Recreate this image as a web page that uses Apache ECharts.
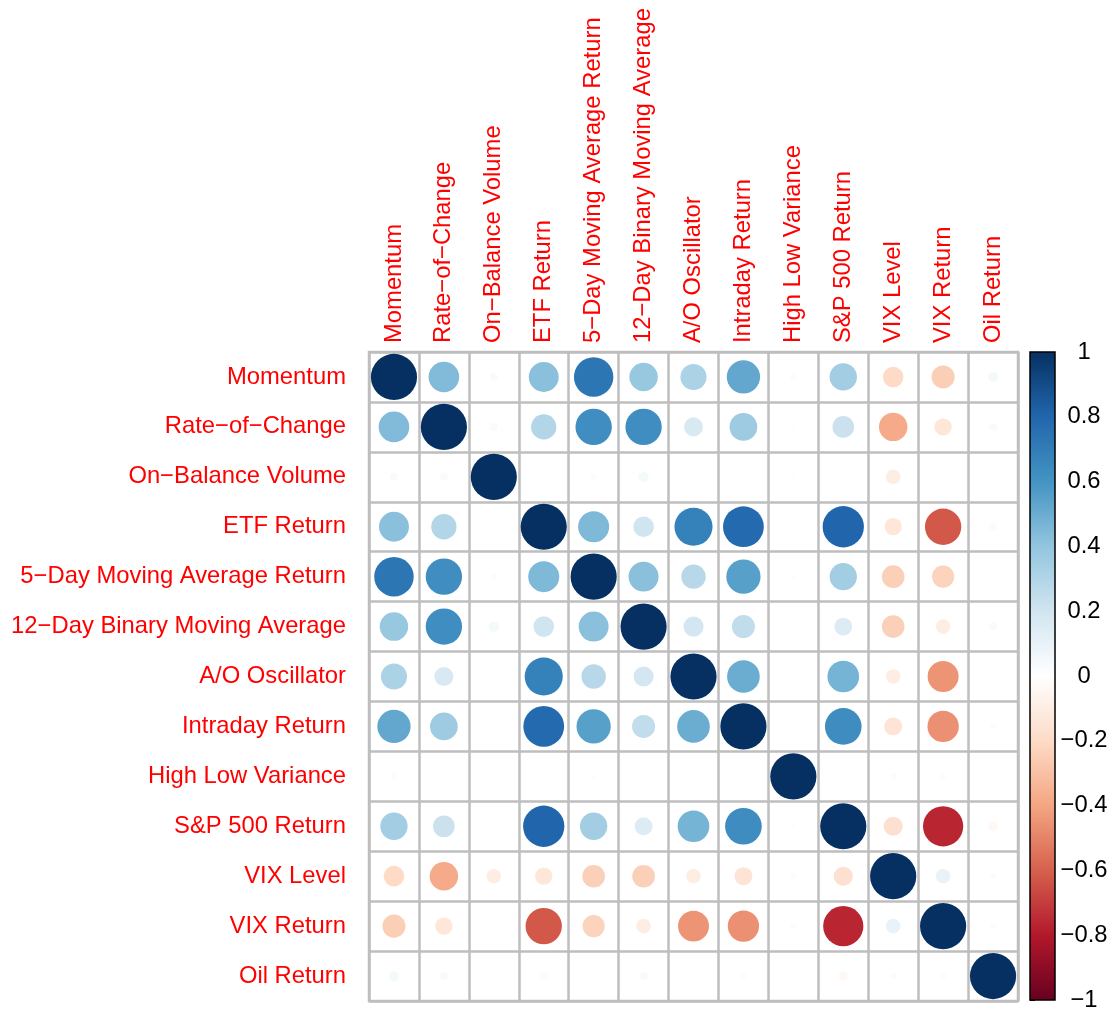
<!DOCTYPE html>
<html>
<head>
<meta charset="utf-8">
<script src="https://cdn.jsdelivr.net/npm/echarts@6/dist/echarts.min.js"></script>
<style>
  html, body { margin: 0; padding: 0; background: #ffffff; }
  #chart { width: 1117px; height: 1014px; }
</style>
</head>
<body>
<div id="chart"></div>
<script>
// Variable names (row order = column order)
const labels = [
  'Momentum', 'Rate\u2212of\u2212Change', 'On\u2212Balance Volume', 'ETF Return',
  '5\u2212Day Moving Average Return', '12\u2212Day Binary Moving Average',
  'A/O Oscillator', 'Intraday Return', 'High Low Variance', 'S&P 500 Return',
  'VIX Level', 'VIX Return', 'Oil Return'
];

// Correlation coefficients, one row per variable
const rMomentum  = [1, 0.44, 0.03, 0.42, 0.73, 0.38, 0.32, 0.52, -0.02, 0.35, -0.20, -0.25, 0.05];
const rRoc       = [0.44, 1, 0.03, 0.30, 0.62, 0.62, 0.17, 0.36, -0.01, 0.22, -0.38, -0.14, 0.03];
const rObv       = [0.03, 0.03, 1, 0.005, 0.02, 0.05, 0.005, 0.01, -0.01, 0.005, -0.10, -0.005, 0.005];
const rEtf       = [0.42, 0.30, 0.005, 1, 0.45, 0.20, 0.68, 0.78, -0.005, 0.80, -0.14, -0.62, -0.03];
const rMa5       = [0.73, 0.62, 0.02, 0.45, 1, 0.42, 0.28, 0.55, 0.015, 0.35, -0.24, -0.23, 0.005];
const rMa12      = [0.38, 0.62, 0.05, 0.20, 0.42, 1, 0.19, 0.25, -0.005, 0.15, -0.24, -0.10, 0.03];
const rAo        = [0.32, 0.17, 0.005, 0.68, 0.28, 0.19, 1, 0.50, 0.005, 0.47, -0.10, -0.45, 0.005];
const rIntraday  = [0.52, 0.36, 0.01, 0.78, 0.55, 0.25, 0.50, 1, 0.01, 0.63, -0.15, -0.46, 0.02];
const rHlv       = [-0.02, -0.01, -0.01, -0.005, 0.015, -0.005, 0.005, 0.01, 1, -0.01, 0.02, 0.02, 0.005];
const rSp500     = [0.35, 0.22, 0.005, 0.80, 0.35, 0.15, 0.47, 0.63, -0.01, 1, -0.17, -0.76, -0.04];
const rVixLevel  = [-0.20, -0.38, -0.10, -0.14, -0.24, -0.24, -0.10, -0.15, 0.02, -0.17, 1, 0.10, -0.02];
const rVixReturn = [-0.25, -0.14, -0.005, -0.62, -0.23, -0.10, -0.45, -0.46, 0.02, -0.76, 0.10, 1, 0.02];
const rOil       = [0.05, 0.03, 0.005, -0.03, 0.005, 0.03, 0.005, 0.02, 0.005, -0.04, -0.02, 0.02, 1];

const corrRows = [rMomentum, rRoc, rObv, rEtf, rMa5, rMa12, rAo, rIntraday,
                  rHlv, rSp500, rVixLevel, rVixReturn, rOil];

// Colour-legend tick values
const legendTicks = [-1, -0.8, -0.6, -0.4, -0.2, 0, 0.2, 0.4, 0.6, 0.8, 1];

// RdBu diverging palette, from -1 to 1
const palette = ['#67001F', '#B2182B', '#D6604D', '#F4A582', '#FDDBC7', '#FFFFFF',
                 '#D1E5F0', '#92C5DE', '#4393C3', '#2166AC', '#053061'];

const FONT = '"Liberation Sans", Arial, Helvetica, sans-serif';
const GRID_LEFT = 369, GRID_TOP = 352, GRID_SIZE = 649;
const n = labels.length;
const cell = GRID_SIZE / n;
const maxDiameter = cell * 0.925;

const points = [];
corrRows.forEach((row, i) => {
  row.forEach((v, j) => points.push([j, i, v]));
});

const chart = echarts.init(document.getElementById('chart'), null, { renderer: 'canvas' });

const fmtMinus = v => String(v).replace('-', '\u2212');
const legendMin = legendTicks[0], legendMax = legendTicks[legendTicks.length - 1];

chart.setOption({
  backgroundColor: '#ffffff',
  animation: false,
  textStyle: { fontFamily: FONT },
  grid: [
    {
      left: GRID_LEFT, top: GRID_TOP, width: GRID_SIZE, height: GRID_SIZE,
      show: true, borderColor: '#bebebe', borderWidth: 2.5, backgroundColor: 'transparent'
    },
    { left: 1030, top: 352, width: 25, height: 648 }
  ],
  xAxis: [
    {
      type: 'category', gridIndex: 0, data: labels, position: 'top',
      boundaryGap: true,
      axisLine: { show: false }, axisTick: { show: false },
      splitLine: { show: true, interval: 0, lineStyle: { color: '#bebebe', width: 2.5 } },
      axisLabel: {
        rotate: -90, interval: 0, margin: 9, color: '#ff0000',
        fontSize: 23.8, fontFamily: FONT
      }
    },
    { type: 'value', gridIndex: 1, show: false, min: 0, max: 1 }
  ],
  yAxis: [
    {
      type: 'category', gridIndex: 0, data: labels, inverse: true,
      boundaryGap: true,
      axisLine: { show: false }, axisTick: { show: false },
      splitLine: { show: true, interval: 0, lineStyle: { color: '#bebebe', width: 2.5 } },
      axisLabel: {
        interval: 0, margin: 23, color: '#ff0000',
        fontSize: 23.8, fontFamily: FONT
      }
    },
    {
      type: 'value', gridIndex: 1, position: 'right',
      min: legendMin, max: legendMax, interval: 0.2,
      axisLine: { show: false },
      splitLine: { show: false },
      axisTick: { show: true, inside: false, length: 5, lineStyle: { color: '#000000', width: 1 } },
      axisLabel: {
        color: '#000000', fontSize: 23.8, fontFamily: FONT,
        margin: 29, align: 'center',
        formatter: v => fmtMinus(Math.round(v * 10) / 10)
      }
    }
  ],
  visualMap: {
    type: 'continuous', show: false, min: legendMin, max: legendMax,
    dimension: 2, seriesIndex: 0,
    inRange: { color: palette }
  },
  graphic: [
    {
      type: 'rect', z: 10,
      shape: { x: 1030, y: 352, width: 25, height: 648 },
      style: {
        fill: new echarts.graphic.LinearGradient(0, 0, 0, 1,
          palette.slice().reverse().map((c, k) => ({ offset: k / (palette.length - 1), color: c }))),
        stroke: '#000000', lineWidth: 1.5
      }
    }
  ],
  series: [
    {
      type: 'scatter', xAxisIndex: 0, yAxisIndex: 0,
      data: points,
      symbol: 'circle',
      symbolSize: d => maxDiameter * Math.sqrt(Math.abs(d[2])),
      itemStyle: { opacity: 1 },
      emphasis: { disabled: true }
    }
  ]
});
</script>
</body>
</html>
